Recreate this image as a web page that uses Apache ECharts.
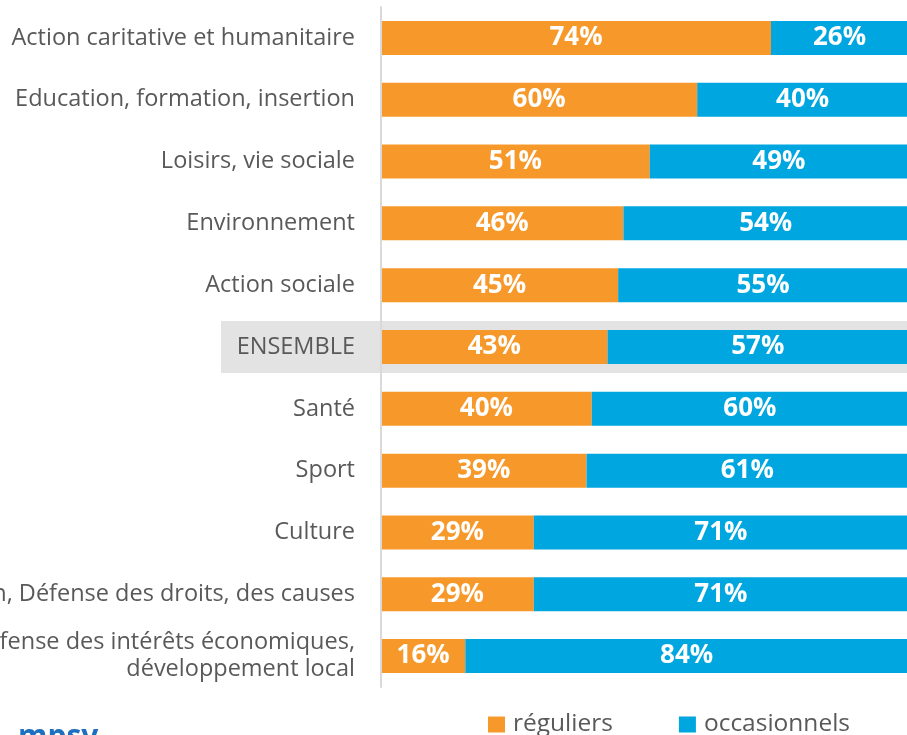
<!DOCTYPE html>
<html>
<head>
<meta charset="utf-8">
<script src="https://cdn.jsdelivr.net/npm/echarts@6/dist/echarts.min.js"></script>
<style>
  html, body { margin: 0; padding: 0; background: #fff; }
  #chart { width: 907px; height: 735px; }
</style>
</head>
<body>
<div id="chart"></div>
<script>
// catégories, de haut en bas
const categories = [
  'Action caritative et humanitaire',
  'Education, formation, insertion',
  'Loisirs, vie sociale',
  'Environnement',
  'Action sociale',
  'ENSEMBLE',
  'Santé',
  'Sport',
  'Culture',
  'Expression, Défense des droits, des causes',
  'Défense des intérêts économiques,\ndéveloppement local'
]
const reguliers = [74, 60, 51, 46, 45, 43, 40, 39, 29, 29, 16]
const occasionnels = [26, 40, 49, 54, 55, 57, 60, 61, 71, 71, 84]
const seriesNames = ['réguliers', 'occasionnels']
const highlighted = 'ENSEMBLE'

const FONT = '"Open Sans", "Noto Sans", sans-serif'
const chart = echarts.init(document.getElementById('chart'), null, { renderer: 'canvas' })

const barLabel = {
  show: true,
  position: 'inside',
  formatter: '{c}%',
  color: '#fff',
  fontFamily: FONT,
  fontWeight: 'bold',
  fontSize: 26
}

const options = {
  animation: false,
  color: ['#F7992A', '#00A6DF'],
  grid: { left: 381, right: -1, top: 7, bottom: 48, outerBoundsMode: 'none', containLabel: false },
  legend: {
    left: 483,
    top: 707,
    itemWidth: 17,
    itemHeight: 16,
    itemGap: 66,
    icon: 'rect',
    textStyle: { fontFamily: FONT, fontSize: 24.5, color: '#595959', padding: [0, 0, 0, 3] },
    data: seriesNames
  },
  xAxis: { type: 'value', min: 0, max: 100, show: false },
  yAxis: {
    type: 'category',
    inverse: true,
    data: categories,
    axisTick: { show: false },
    axisLine: { show: true, lineStyle: { color: '#D9D9D9', width: 2 } },
    axisLabel: {
      margin: 26,
      fontFamily: FONT,
      fontSize: 23.5,
      lineHeight: 27,
      color: '#595959'
    },
    z: 3
  },
  series: [
    {
      name: seriesNames[0],
      type: 'bar',
      stack: 'total',
      barCategoryGap: '45%',
      data: reguliers,
      label: barLabel
    },
    {
      name: seriesNames[1],
      type: 'bar',
      stack: 'total',
      barCategoryGap: '45%',
      data: occasionnels,
      label: barLabel
    }
  ]
}
chart.setOption(options)

// bande grise derrière la ligne ENSEMBLE
const yc = chart.convertToPixel({ yAxisIndex: 0 }, highlighted)
const band = chart.convertToPixel({ yAxisIndex: 0 }, categories[1]) - chart.convertToPixel({ yAxisIndex: 0 }, categories[0])
const h = band * 0.84
chart.setOption({
  graphic: [
    {
      type: 'rect',
      z: -10,
      shape: { x: 221, y: yc - h / 2, width: 907 - 221, height: h },
      style: { fill: '#E3E3E3' }
    },
    {
      type: 'text',
      left: 18,
      top: 722,
      style: { text: 'mpsv', fill: '#1F6FC0', font: 'bold 30px ' + FONT }
    }
  ]
})
</script>
</body>
</html>
